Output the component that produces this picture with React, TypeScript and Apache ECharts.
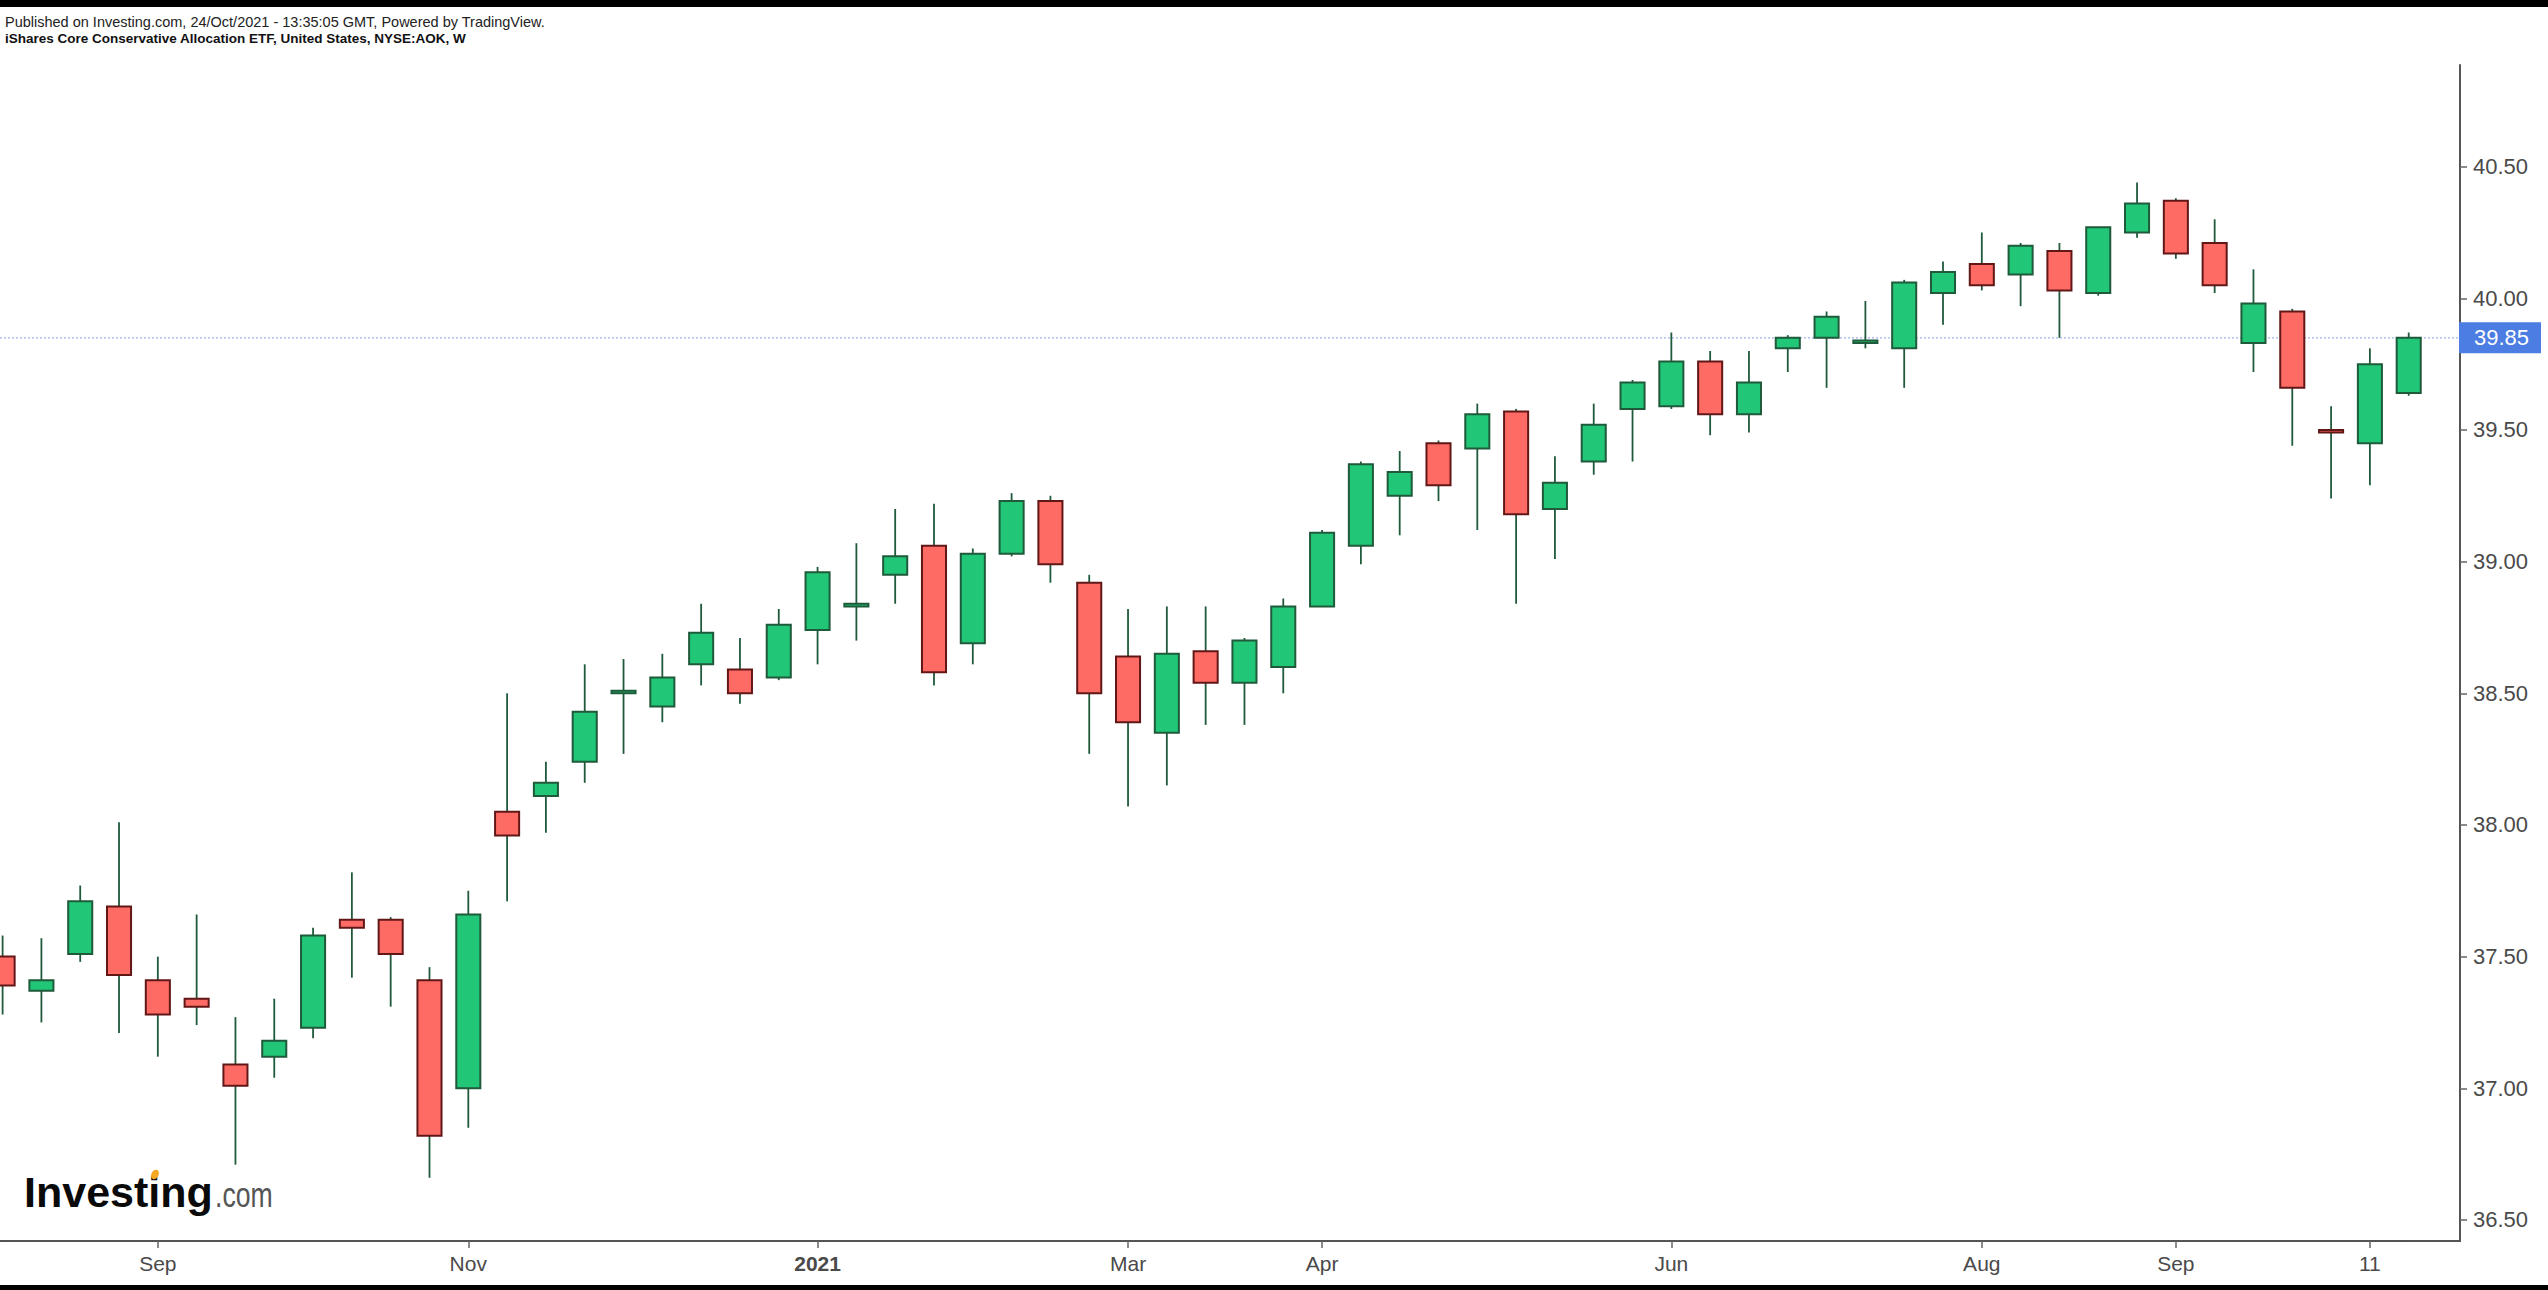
import React, { useEffect, useRef } from "react";
import * as echarts from "echarts";

// ---- data ----
const weeks = [
  "2020-08-10", "2020-08-17", "2020-08-24", "2020-08-31",
  "2020-09-07", "2020-09-14", "2020-09-21", "2020-09-28",
  "2020-10-05", "2020-10-12", "2020-10-19", "2020-10-26",
  "2020-11-02", "2020-11-09", "2020-11-16", "2020-11-23", "2020-11-30",
  "2020-12-07", "2020-12-14", "2020-12-21", "2020-12-28",
  "2021-01-04", "2021-01-11", "2021-01-18", "2021-01-25",
  "2021-02-01", "2021-02-08", "2021-02-15", "2021-02-22",
  "2021-03-01", "2021-03-08", "2021-03-15", "2021-03-22", "2021-03-29",
  "2021-04-05", "2021-04-12", "2021-04-19", "2021-04-26",
  "2021-05-03", "2021-05-10", "2021-05-17", "2021-05-24", "2021-05-31",
  "2021-06-07", "2021-06-14", "2021-06-21", "2021-06-28",
  "2021-07-05", "2021-07-12", "2021-07-19", "2021-07-26",
  "2021-08-02", "2021-08-09", "2021-08-16", "2021-08-23", "2021-08-30",
  "2021-09-06", "2021-09-13", "2021-09-20", "2021-09-27",
  "2021-10-04", "2021-10-11", "2021-10-18",
];

const openP = [
  37.5, 37.37, 37.51, 37.69, 37.41, 37.34, 37.09, 37.12, 37.23, 37.64, 37.64, 37.41,
  37.0, 38.05, 38.11, 38.24, 38.5, 38.45, 38.61, 38.59, 38.56,
  38.74, 38.83, 38.95, 39.06, 38.69, 39.03, 39.23, 38.92,
  38.64, 38.35, 38.66, 38.54, 38.6, 38.83, 39.06, 39.25, 39.45,
  39.43, 39.57, 39.2, 39.38, 39.58, 39.59, 39.76, 39.56, 39.81,
  39.85, 39.83, 39.81, 40.02, 40.13, 40.09, 40.18, 40.02, 40.25,
  40.37, 40.21, 39.83, 39.95, 39.5, 39.45, 39.64,
];
const highP = [
  37.58, 37.57, 37.77, 38.01, 37.5, 37.66, 37.27, 37.34, 37.61, 37.82, 37.65, 37.46,
  37.75, 38.5, 38.24, 38.61, 38.63, 38.65, 38.84, 38.71, 38.82,
  38.98, 39.07, 39.2, 39.22, 39.05, 39.26, 39.25, 38.95,
  38.82, 38.83, 38.83, 38.71, 38.86, 39.12, 39.38, 39.42, 39.46,
  39.6, 39.58, 39.4, 39.6, 39.69, 39.87, 39.8, 39.8, 39.86,
  39.95, 39.99, 40.07, 40.14, 40.25, 40.21, 40.21, 40.27, 40.44,
  40.38, 40.3, 40.11, 39.96, 39.59, 39.81, 39.87,
];
const lowP = [
  37.28, 37.25, 37.48, 37.21, 37.12, 37.24, 36.71, 37.04, 37.19, 37.42, 37.31, 36.66,
  36.85, 37.71, 37.97, 38.16, 38.27, 38.39, 38.53, 38.46, 38.55,
  38.61, 38.7, 38.84, 38.53, 38.61, 39.02, 38.92, 38.27,
  38.07, 38.15, 38.38, 38.38, 38.5, 38.83, 38.99, 39.1, 39.23,
  39.12, 38.84, 39.01, 39.33, 39.38, 39.58, 39.48, 39.49, 39.72,
  39.66, 39.81, 39.66, 39.9, 40.03, 39.97, 39.85, 40.01, 40.23,
  40.15, 40.02, 39.72, 39.44, 39.24, 39.29, 39.63,
];
const closeP = [
  37.39, 37.41, 37.71, 37.43, 37.28, 37.31, 37.01, 37.18, 37.58, 37.61, 37.51, 36.82,
  37.66, 37.96, 38.16, 38.43, 38.51, 38.56, 38.73, 38.5, 38.76,
  38.96, 38.84, 39.02, 38.58, 39.03, 39.23, 38.99, 38.5,
  38.39, 38.65, 38.54, 38.7, 38.83, 39.11, 39.37, 39.34, 39.29,
  39.56, 39.18, 39.3, 39.52, 39.68, 39.76, 39.56, 39.68, 39.85,
  39.93, 39.84, 40.06, 40.1, 40.05, 40.2, 40.03, 40.27, 40.36,
  40.17, 40.05, 39.98, 39.66, 39.49, 39.75, 39.85,
];

const xTickWeeks = [
  "2020-09-07", "2020-11-02", "2021-01-04", "2021-03-01", "2021-04-05",
  "2021-06-07", "2021-08-02", "2021-09-06", "2021-10-11",
];
const xTickTexts = ["Sep", "Nov", "2021", "Mar", "Apr", "Jun", "Aug", "Sep", "11"];
const yTicks = [36.5, 37.0, 37.5, 38.0, 38.5, 39.0, 39.5, 40.0, 40.5];
const yMin = 36.42;
const yMax = 40.886;
const lastPrice = 39.85;

const headerLine1 =
  "Published on Investing.com, 24/Oct/2021 - 13:35:05 GMT, Powered by TradingView.";
const headerLine2 =
  "iShares Core Conservative Allocation ETF, United States, NYSE:AOK, W";

const FONT = '"Liberation Sans", Arial, Helvetica, sans-serif';

export default function App() {
  const ref = useRef<HTMLDivElement>(null);

  useEffect(() => {
    if (!ref.current) return;
    const chart = echarts.init(ref.current, null, { renderer: "svg" });

    const W = 2548;
    const H = 1290;
    // first candle centre / last candle centre define the grid (boundaryGap: false)
    const GRID_LEFT = 2.6;
    const GRID_RIGHT = W - 2408.7;
    const GRID_TOP = 65;
    const GRID_BOTTOM = 49;
    const AXIS_X = 2460;
    const yOffset = AXIS_X - (W - GRID_RIGHT);

    const data = weeks.map((w, i) => [i, openP[i], closeP[i], lowP[i], highP[i]]);
    const showTick = (i: number) => xTickWeeks.indexOf(weeks[i]) >= 0;

    const axisColor = "#555555";
    const labelColor = "#4a4a4a";

    chart.setOption({
      animation: false,
      backgroundColor: "#ffffff",
      grid: {
        left: GRID_LEFT,
        right: GRID_RIGHT,
        top: GRID_TOP,
        bottom: GRID_BOTTOM,
        containLabel: false,
        outerBoundsMode: "none",
      },
      xAxis: {
        type: "category",
        data: weeks,
        boundaryGap: false,
        axisLine: { show: true, onZero: false, lineStyle: { color: axisColor, width: 2 } },
        axisTick: {
          show: true,
          interval: showTick,
          length: 7,
          lineStyle: { color: "#666666", width: 1.5 },
        },
        axisLabel: {
          interval: showTick,
          margin: 12,
          fontSize: 21,
          fontFamily: FONT,
          color: labelColor,
          formatter: (v: string) => {
            const k = xTickWeeks.indexOf(v);
            if (k < 0) return "";
            const t = xTickTexts[k];
            return /^\d{4}$/.test(t) ? "{b|" + t + "}" : t;
          },
          rich: {
            b: { fontSize: 21, fontFamily: FONT, fontWeight: "bold", color: labelColor },
          },
        },
        splitLine: { show: false },
      },
      yAxis: {
        type: "value",
        position: "right",
        offset: yOffset,
        min: yMin,
        max: yMax,
        splitNumber: 9,
        scale: true,
        axisLine: { show: true, onZero: false, lineStyle: { color: axisColor, width: 2 } },
        axisTick: {
          show: true,
          length: 7,
          customValues: yTicks,
          lineStyle: { color: "#666666", width: 1.5 },
        },
        axisLabel: {
          customValues: yTicks,
          margin: 13,
          fontSize: 22,
          fontFamily: FONT,
          color: labelColor,
          formatter: (v: number) => v.toFixed(2),
        },
        splitLine: { show: false },
      },
      series: [
        {
          type: "custom",
          data,
          encode: { x: 0, y: [1, 2, 3, 4] },
          clip: false,
          z: 5,
          renderItem: (params: any, api: any) => {
            const i = api.value(0);
            const o = api.value(1);
            const c = api.value(2);
            const l = api.value(3);
            const h = api.value(4);
            const pO = api.coord([i, o]);
            const pC = api.coord([i, c]);
            const pL = api.coord([i, l]);
            const pH = api.coord([i, h]);
            const band = api.size([1, 0])[0];
            const bw = band * 0.62;
            const up = c >= o;
            const x = pO[0];
            const top = Math.min(pO[1], pC[1]);
            const bot = Math.max(pO[1], pC[1]);
            return {
              type: "group",
              children: [
                {
                  type: "line",
                  shape: { x1: x, y1: pH[1], x2: x, y2: pL[1] },
                  style: { stroke: "#1f5a3b", lineWidth: 1.8 },
                },
                {
                  type: "rect",
                  shape: { x: x - bw / 2, y: top, width: bw, height: Math.max(bot - top, 0.6) },
                  style: {
                    fill: up ? "#21c776" : "#fe6b65",
                    stroke: up ? "#1f5a3b" : "#621717",
                    lineWidth: 2,
                  },
                },
              ],
            };
          },
        },
      ],
    });

    const py = chart.convertToPixel({ yAxisIndex: 0 }, lastPrice) as number;
    const gridBottomY = H - GRID_BOTTOM;
    const gridRightX = W - GRID_RIGHT;

    chart.setOption({
      graphic: [
        // black bands
        { type: "rect", z: 50, shape: { x: 0, y: 0, width: W, height: 7 }, style: { fill: "#000" } },
        { type: "rect", z: 50, shape: { x: 0, y: 1285, width: W, height: 5 }, style: { fill: "#000" } },
        // header
        {
          type: "text",
          z: 50,
          x: 5,
          y: 21.5,
          style: {
            text: headerLine1,
            fontSize: 14.5,
            fontFamily: FONT,
            fill: "#222222",
            verticalAlign: "middle",
            align: "left",
          },
        },
        {
          type: "text",
          z: 50,
          x: 5,
          y: 38.8,
          style: {
            text: headerLine2,
            fontSize: 13.5,
            fontWeight: "bold",
            fontFamily: FONT,
            fill: "#111111",
            verticalAlign: "middle",
            align: "left",
          },
        },
        // x axis line extensions (left edge and up to the price axis)
        {
          type: "line",
          z: 40,
          shape: { x1: 0, y1: gridBottomY, x2: GRID_LEFT + 1, y2: gridBottomY },
          style: { stroke: axisColor, lineWidth: 2 },
        },
        {
          type: "line",
          z: 40,
          shape: { x1: gridRightX - 1, y1: gridBottomY, x2: AXIS_X + 1, y2: gridBottomY },
          style: { stroke: axisColor, lineWidth: 2 },
        },
        // last price dotted line
        {
          type: "line",
          z: 1,
          shape: { x1: 0, y1: py, x2: AXIS_X, y2: py },
          style: { stroke: "#9fb2ee", lineWidth: 1.2, lineDash: [2, 2] },
        },
        // last price label box
        {
          type: "rect",
          z: 60,
          shape: { x: AXIS_X - 1, y: py - 15.5, width: 82, height: 31 },
          style: { fill: "#4c7de2" },
        },
        {
          type: "text",
          z: 61,
          x: AXIS_X + 14,
          y: py,
          style: {
            text: lastPrice.toFixed(2),
            fontSize: 22,
            fontFamily: FONT,
            fill: "#ffffff",
            verticalAlign: "middle",
            align: "left",
          },
        },
        // logo
        {
          type: "text",
          z: 50,
          x: 24,
          y: 1192,
          style: {
            text: "Investing",
            fontSize: 43,
            fontWeight: "bold",
            fontFamily: FONT,
            fill: "#0a0a0a",
            verticalAlign: "middle",
            align: "left",
          },
        },
        {
          type: "text",
          z: 50,
          x: 215,
          y: 1194.5,
          scaleX: 0.74,
          style: {
            text: ".com",
            fontSize: 36,
            fontFamily: FONT,
            fill: "#555555",
            verticalAlign: "middle",
            align: "left",
          },
        },
        {
          type: "ellipse",
          z: 51,
          x: 155,
          y: 1174.5,
          rotation: -0.5,
          shape: { cx: 0, cy: 0, rx: 3.6, ry: 5 },
          style: { fill: "#f5a623" },
        },
      ],
    });

    return () => chart.dispose();
  }, []);

  return (
    <div
      ref={ref}
      style={{ position: "fixed", left: 0, top: 0, width: 2548, height: 1290, background: "#fff" }}
    />
  );
}
